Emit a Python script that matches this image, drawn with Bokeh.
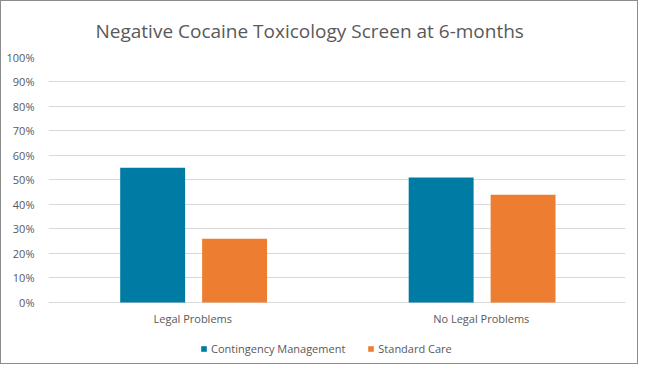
from bokeh.plotting import figure
from bokeh.models import (FactorRange, Range1d, NumeralTickFormatter, FixedTicker,
                          Legend, LegendItem, ColumnDataSource)
from bokeh.transform import dodge
from bokeh.core.properties import value
from bokeh.embed import file_html
from bokeh.resources import INLINE

categories = ["Legal Problems", "No Legal Problems"]
contingency = [0.55, 0.51]
standard = [0.26, 0.44]
series_names = ["Contingency Management", "Standard Care"]
y_ticks = [0.0, 0.1, 0.2, 0.3, 0.4, 0.5, 0.6, 0.7, 0.8, 0.9, 1.0]

FONT = "Open Sans"
TXT = "#595959"
GRID = "#d9d9d9"
C1 = "#007BA3"
C2 = "#ED7D31"

src = ColumnDataSource(dict(cat=categories, cm=contingency, sc=standard,
                            base=[0.0] * len(categories)))

p = figure(frame_width=577, frame_height=306, output_backend="svg", toolbar_location=None,
           x_range=FactorRange(*categories, range_padding=0),
           y_range=Range1d(-0.249, 1),
           x_axis_location=None,
           title="Negative Cocaine Toxicology Screen at 6-months",
           min_border_left=47, min_border_right=12, min_border_top=56,
           min_border_bottom=0)
p.title.align = "left"
p.title.text_font = FONT
p.title.text_font_style = "normal"
p.title.text_font_size = "19px"
p.title.text_color = TXT
p.title.offset = 47
p.title.standoff = 28

r1 = p.vbar(x=dodge("cat", -0.139, range=p.x_range), top="cm", width=0.225,
            source=src, color=C1, line_color=None)
r2 = p.vbar(x=dodge("cat", 0.145, range=p.x_range), top="sc", width=0.225,
            source=src, color=C2, line_color=None)

# category labels under the 0% line
p.text(x="cat", y="base", text="cat", source=src, y_offset=9,
       text_align="center", text_baseline="top", text_font=value(FONT),
       text_font_size="11px", text_color=TXT)

p.outline_line_color = None
p.xgrid.grid_line_color = None
p.ygrid.grid_line_color = GRID
p.ygrid.grid_line_width = 1

p.yaxis.ticker = FixedTicker(ticks=y_ticks)
p.yaxis.formatter = NumeralTickFormatter(format="0%")
p.yaxis.axis_line_color = None
p.yaxis.major_tick_line_color = None
p.yaxis.minor_tick_line_color = None
p.yaxis.major_label_text_font = FONT
p.yaxis.major_label_text_font_size = "11px"
p.yaxis.major_label_text_color = TXT
p.yaxis.major_label_standoff = 8

legend = Legend(items=[LegendItem(label=series_names[0], renderers=[r1]),
                       LegendItem(label=series_names[1], renderers=[r2])],
                orientation="horizontal", location=(152, 7),
                glyph_width=7, glyph_height=7, spacing=22,
                label_text_font=FONT, label_text_font_size="11px",
                label_text_color=TXT, label_standoff=4, label_height=14,
                border_line_color=None, background_fill_alpha=0,
                margin=0, padding=4)
p.add_layout(legend, "center")
p.styles = {"border": "1px solid #8c8c8c"}

open("out.html", "w").write(file_html(p, INLINE))
